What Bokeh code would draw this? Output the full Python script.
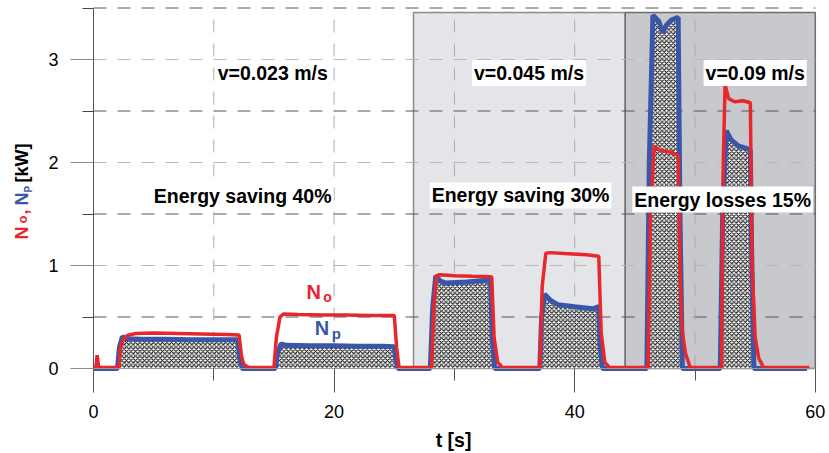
import math
from bokeh.plotting import figure
from bokeh.models import FixedTicker, Label, Range1d
from bokeh.embed import file_html
from bokeh.resources import INLINE

# ---- data ----
# N_o (red) trace: time [s] and power [kW]
T_NO = [0, 0.2, 0.3, 0.42, 0.6,
        2.1, 2.25, 2.5, 2.8, 3.5, 5, 7, 9, 11, 12.1, 12.3, 12.5, 12.9,
        15.0, 15.2, 15.5, 15.8, 17, 19, 21, 23, 25.0, 25.2, 25.4,
        28.1, 28.3, 28.5, 28.8, 30, 31.5, 33.1, 33.3, 33.6, 34.0,
        37.1, 37.3, 37.6, 38, 39.5, 41, 42.0, 42.2, 42.5, 42.9,
        46.1, 46.3, 46.6, 47.0, 47.5, 48.0, 48.6, 48.75, 48.9, 49.2, 49.6,
        52.2, 52.35, 52.5, 52.8, 53.3, 54.0, 54.6, 54.75, 55.0, 55.3, 55.7,
        59.5]
NO = [0.01, 0.01, 0.13, 0.02, 0.01,
      0.01, 0.2, 0.29, 0.32, 0.34, 0.345, 0.34, 0.335, 0.33, 0.325, 0.12, 0.04, 0.01,
      0.01, 0.3, 0.5, 0.53, 0.525, 0.52, 0.52, 0.515, 0.515, 0.2, 0.01,
      0.01, 0.6, 0.9, 0.91, 0.9, 0.895, 0.89, 0.3, 0.06, 0.01,
      0.01, 0.8, 1.12, 1.125, 1.115, 1.105, 1.09, 0.35, 0.06, 0.01,
      0.01, 1.5, 2.16, 2.12, 2.11, 2.1, 2.07, 1.0, 0.4, 0.15, 0.01,
      0.01, 2.0, 2.75, 2.62, 2.59, 2.6, 2.58, 1.0, 0.3, 0.1, 0.01,
      0.01]

# N_p (blue) trace
T_NP = [0, 2.0, 2.15, 2.4, 2.7, 4, 6, 8, 10, 12.0, 12.15, 12.35,
        15.1, 15.3, 15.6, 16, 18, 20, 22, 24, 25.0, 25.15, 25.3,
        28.0, 28.2, 28.45, 28.8, 29.3, 31, 33.0, 33.15, 33.35,
        37.1, 37.25, 37.5, 38.0, 38.6, 40, 41.5, 42.0, 42.1, 42.3,
        46.0, 46.2, 46.5, 47.0, 47.3, 47.6, 48.0, 48.6, 48.75, 48.95,
        52.1, 52.3, 52.6, 53.0, 53.6, 54.2, 54.6, 54.7, 54.9,
        59.3]
NP = [0, 0, 0.2, 0.31, 0.29, 0.285, 0.285, 0.28, 0.28, 0.28, 0.1, 0,
      0, 0.15, 0.24, 0.225, 0.22, 0.22, 0.215, 0.215, 0.21, 0.08, 0,
      0, 0.6, 0.9, 0.85, 0.83, 0.84, 0.86, 0.3, 0,
      0, 0.5, 0.72, 0.66, 0.62, 0.6, 0.58, 0.6, 0.25, 0,
      0, 2.0, 3.43, 3.37, 3.26, 3.33, 3.38, 3.41, 1.5, 0,
      0, 1.5, 2.31, 2.22, 2.16, 2.14, 2.12, 1.2, 0,
      0]

# shaded speed regions
REGION_LEFT = [26.6, 44.2]
REGION_RIGHT = [44.2, 60.0]
REGION_TOP = [3.456, 3.456]

SPEED_LABELS = ["v=0.023 m/s", "v=0.045 m/s", "v=0.09 m/s"]
SPEED_X = [14.9, 36.2, 55.0]
SPEED_Y = [2.87, 2.87, 2.87]

ENERGY_LABELS = ["Energy saving 40%", "Energy saving 30%", "Energy losses 15%"]
ENERGY_X = [12.4, 35.5, 52.3]
ENERGY_Y = [1.67, 1.68, 1.64]

X_TICKS = [0, 20, 40, 60]
X_MINOR = [10, 30, 50]
Y_TICKS = [0, 1, 2, 3]
Y_MINOR = [0.5, 1.5, 2.5, 3.5]
X_MAX = 60
Y_MAX = 3.5

RED = "#e8262b"
BLUE = "#3a56a8"
FONT = "Liberation Sans"

# layout: canvas 829x453, data origin at pixel (93, 368), 12.03 px/s, 103 px/kW
W, H = 829, 453
OX, OY = 93, 368
SX, SY = 12.03, 103.0

p = figure(width=W, height=H,
           x_range=Range1d(-OX / SX, (W - OX) / SX),
           y_range=Range1d(-(H - OY) / SY, OY / SY),
           output_backend="svg", toolbar_location=None,
           min_border_left=0, min_border_right=0, min_border_top=0, min_border_bottom=0)
p.outline_line_color = None
p.background_fill_color = "white"
p.border_fill_color = "white"
p.grid.visible = False

# shaded regions
p.quad(left=REGION_LEFT, right=REGION_RIGHT, bottom=[0, 0], top=REGION_TOP,
       fill_color=["#e4e5e9", "#c8c9cd"], line_color=["#8c8c8c", "#6e6e6e"],
       line_width=1.5, level="image")

# dashed grid lines at the tick positions
hy_major = [v for v in Y_TICKS if v > 0]
p.segment(x0=[0] * len(hy_major), y0=hy_major, x1=[X_MAX] * len(hy_major), y1=hy_major,
          line_color="#b8b8b8", line_dash="13 11", line_width=1, level="underlay")
p.segment(x0=[0] * len(Y_MINOR), y0=Y_MINOR, x1=[X_MAX] * len(Y_MINOR), y1=Y_MINOR,
          line_color="#555555", line_dash="13 11", line_width=1, level="underlay")
vx = sorted([v for v in X_TICKS + X_MINOR if 0 < v < X_MAX])
p.segment(x0=vx, y0=[0] * len(vx), x1=vx, y1=[Y_MAX] * len(vx),
          line_color="#ababab", line_dash="13 11", line_width=1, level="underlay")

# axes crossing at the origin
p.xaxis.fixed_location = 0
p.yaxis.fixed_location = 0
p.xaxis.bounds = (0, X_MAX)
p.yaxis.bounds = (0, Y_MAX)
p.xaxis.ticker = FixedTicker(ticks=X_TICKS, minor_ticks=X_MINOR)
p.yaxis.ticker = FixedTicker(ticks=Y_TICKS, minor_ticks=Y_MINOR)
for ax in (p.xaxis, p.yaxis):
    ax.major_label_text_font = FONT
    ax.major_label_text_font_size = "18px"
    ax.major_label_text_color = "black"
    ax.major_tick_in = 0
    ax.minor_tick_in = 0
p.xaxis.major_tick_out = 24
p.xaxis.minor_tick_out = 12
p.xaxis.major_label_standoff = 12
p.xaxis.axis_line_color = "#9a9a9a"
p.xaxis.major_tick_line_color = "#555555"
p.xaxis.minor_tick_line_color = "#555555"
p.yaxis.major_tick_out = 23
p.yaxis.minor_tick_out = 11
p.yaxis.major_label_standoff = 12
p.yaxis.axis_line_color = "#555555"
p.yaxis.major_tick_line_color = "#8a8a8a"
p.yaxis.minor_tick_line_color = "#444444"

# hatched area under N_p
p.varea(x=T_NP, y1=[0] * len(T_NP), y2=NP, fill_color="white",
        hatch_pattern="x", hatch_color="black", hatch_scale=4.5, hatch_weight=1.05)
p.line(T_NP, NP, line_color=BLUE, line_width=5)
p.line(T_NO, NO, line_color=RED, line_width=3.5)


def px_x(px):
    return (px - OX) / SX


def px_y(py):
    return (OY - py) / SY


def lab(x, y, text, size="19.5px", color="black", style="bold", align="left",
        baseline="alphabetic", angle=0.0, bg=None):
    kw = {}
    if bg:
        kw = dict(background_fill_color=bg, padding=2)
    p.add_layout(Label(x=x, y=y, text=text, text_font=FONT, text_font_size=size,
                       text_color=color, text_font_style=style, text_align=align,
                       text_baseline=baseline, angle=angle, **kw))


for t, x, y in zip(SPEED_LABELS, SPEED_X, SPEED_Y):
    lab(x, y, t, align="center", baseline="middle", bg="white")
for t, x, y in zip(ENERGY_LABELS, ENERGY_X, ENERGY_Y):
    lab(x, y, t, align="center", baseline="middle", bg="white")

# series labels
lab(17.7, 0.74, "N", size="20px", color=RED)
lab(19.1, 0.695, "o", size="14px", color=RED)
lab(18.4, 0.39, "N", size="20px", color=BLUE)
lab(19.8, 0.34, "p", size="15px", color=BLUE)

# x axis title
lab(px_x(453), px_y(439), "t [s]", align="center")

# y axis title (rotated, multi-coloured)
A = math.pi / 2
lab(px_x(21), px_y(239), "N", size="18px", color=RED, angle=A)
lab(px_x(22), px_y(223), "o", size="13px", color=RED, angle=A)
lab(px_x(21), px_y(214), ",", size="18px", color=RED, angle=A)
lab(px_x(21), px_y(205), "N", size="18px", color=BLUE, angle=A)
lab(px_x(28), px_y(192), "P", size="10px", color=BLUE, angle=A)
lab(px_x(21), px_y(182), "[kW]", size="18px", color="black", angle=A)

open("out.html", "w").write(file_html(p, INLINE))
